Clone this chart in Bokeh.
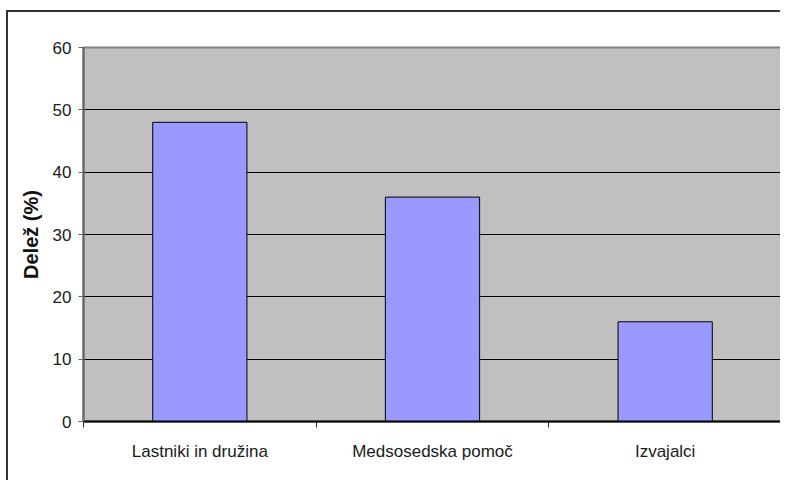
from bokeh.plotting import figure
from bokeh.models import FixedTicker, ColumnDataSource
from bokeh.embed import file_html
from bokeh.resources import INLINE

categories = ["Lastniki in družina", "Medsosedska pomoč", "Izvajalci"]
values = [48, 36, 16]
y_ticks = [0, 10, 20, 30, 40, 50, 60]

positions = [i + 0.5 for i in range(len(categories))]
source = ColumnDataSource(dict(x=positions, top=values))

FONT = "Liberation Sans"

p = figure(width=774, height=470, output_backend="svg", toolbar_location=None,
           x_range=(0, len(categories)), y_range=(0, 60),
           min_border_left=75, min_border_right=1, min_border_top=35, min_border_bottom=61)
p.styles = {"border-left": "2px solid #333333", "border-top": "2px solid #333333",
            "margin-left": "6px", "margin-top": "10px"}

p.background_fill_color = "#C0C0C0"
p.border_fill_color = "white"
p.outline_line_color = "#808080"
p.outline_line_width = 2

p.vbar(x="x", top="top", width=0.405, bottom=0, source=source,
       fill_color="#9999FF", line_color="black", line_width=1)

# x axis
p.xaxis.ticker = FixedTicker(ticks=positions, minor_ticks=list(range(len(categories) + 1)))
p.xaxis.major_label_overrides = {pos: c for pos, c in zip(positions, categories)}
p.xaxis.major_tick_out = 0
p.xaxis.major_tick_in = 0
p.xaxis.minor_tick_out = 6
p.xaxis.minor_tick_in = 0
p.xaxis.minor_tick_line_color = "#222222"
p.xaxis.axis_line_color = "black"
p.xaxis.axis_line_width = 2
p.xaxis.major_label_standoff = 14
p.xaxis.major_label_text_font = FONT
p.xaxis.major_label_text_font_size = "17px"
p.xaxis.major_label_text_color = "#1a1a1a"
p.xgrid.visible = False

# y axis
p.yaxis.ticker = FixedTicker(ticks=y_ticks)
p.yaxis.minor_tick_line_color = None
p.yaxis.major_tick_out = 5
p.yaxis.major_tick_in = 0
p.yaxis.major_tick_line_color = "#666666"
p.yaxis.axis_line_color = "#666666"
p.yaxis.axis_line_width = 2
p.yaxis.major_label_standoff = 7
p.yaxis.major_label_text_font = FONT
p.yaxis.major_label_text_font_size = "17px"
p.yaxis.major_label_text_color = "#1a1a1a"
p.yaxis.axis_label = "Delež (%)"
p.yaxis.axis_label_text_font = FONT
p.yaxis.axis_label_text_font_style = "bold"
p.yaxis.axis_label_text_font_size = "20px"
p.yaxis.axis_label_text_color = "#111111"
p.yaxis.axis_label_standoff = 8

p.ygrid.grid_line_color = "black"
p.ygrid.grid_line_width = 1

open("out.html", "w").write(file_html(p, INLINE))
